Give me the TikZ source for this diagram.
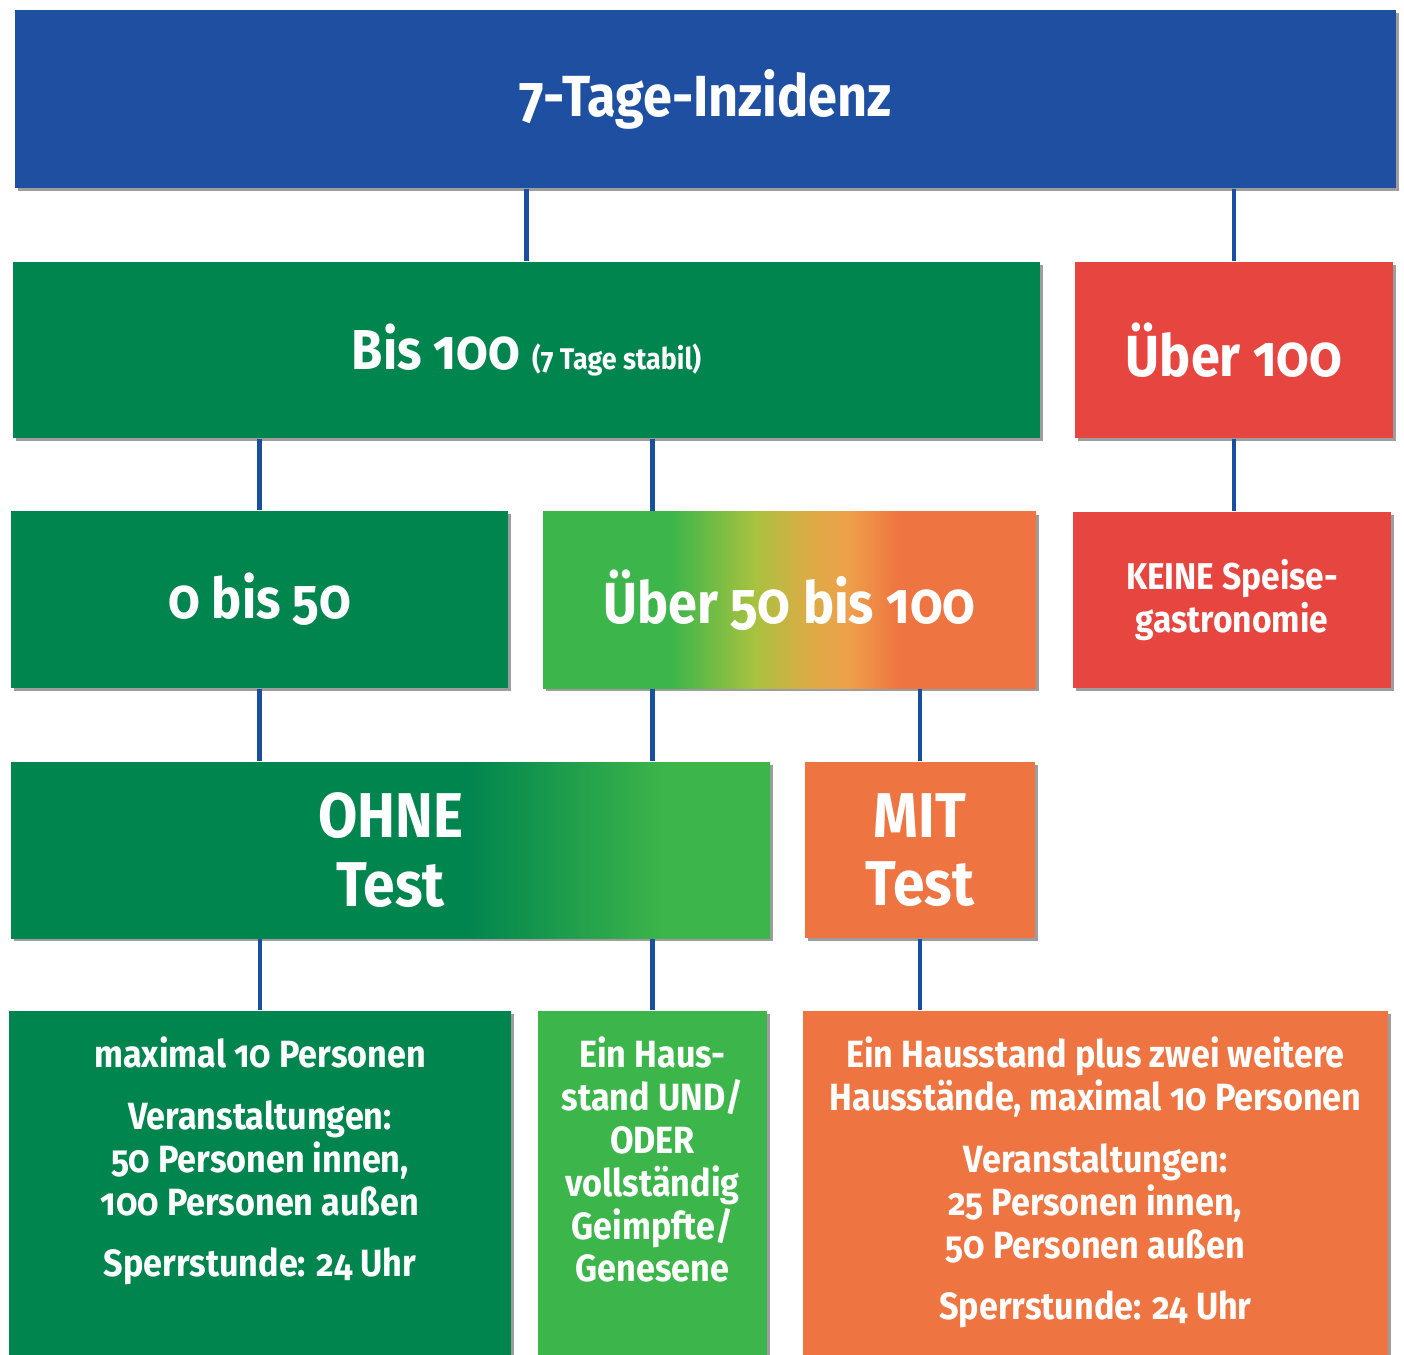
\documentclass[tikz,border=0pt]{standalone}
\usepackage{fontspec}
\setmainfont{Fira Sans}[Numbers=OldStyle, FakeStretch=0.9]
\usetikzlibrary{shadows}

\definecolor{blau}{HTML}{1F4FA0}
\definecolor{linienblau}{HTML}{1A4E9E}
\definecolor{dunkelgruen}{HTML}{00854F}
\definecolor{hellgruen}{HTML}{3CB54A}
\definecolor{gelbgruen}{HTML}{A8C23F}
\definecolor{ocker}{HTML}{D9AD45}
\definecolor{hellorange}{HTML}{EEA04A}
\definecolor{ampelorange}{HTML}{EE7541}
\definecolor{ampelrot}{HTML}{E6463F}

\pgfdeclarehorizontalshading{ampel}{100bp}{color(0bp)=(hellgruen); color(38bp)=(hellgruen); color(46.5bp)=(gelbgruen); color(51.5bp)=(ocker); color(56bp)=(hellorange); color(61bp)=(ampelorange); color(100bp)=(ampelorange)}
\pgfdeclarehorizontalshading{gruenverlauf}{100bp}{color(0bp)=(dunkelgruen); color(55bp)=(dunkelgruen); color(68bp)=(hellgruen); color(100bp)=(hellgruen)}

\tikzset{
  kasten/.style={rectangle, inner sep=0pt, text=white, align=center, font=\bfseries,
    drop shadow={shadow xshift=0.03cm, shadow yshift=-0.03cm, opacity=0.55, fill=black!70}},
  linie/.style={draw=linienblau, line width=1.4pt},
  textblock/.style={text=white, align=center, font=\fontsize{10.8}{12.2}\selectfont\bfseries}
}

\begin{document}
\begin{tikzpicture}
        \useasboundingbox (0,0) rectangle (14.04,-13.55);

        % Kopfzeile
        \node[kasten, fill=blau, minimum width=13.81cm, minimum height=1.78cm, font=\fontsize{16.5}{19}\selectfont\bfseries] (top) at (7.055,-0.99) {7-Tage-Inzidenz};

        % zweite Reihe
        \node[kasten, fill=dunkelgruen, minimum width=10.27cm, minimum height=1.76cm, font=\fontsize{16}{19}\selectfont\bfseries] (bis) at (5.265,-3.50) {Bis 100 {\fontsize{8.5}{10}\selectfont(7 Tage stabil)}};
        \node[kasten, fill=ampelrot, minimum width=3.18cm, minimum height=1.76cm, font=\fontsize{16.5}{19}\selectfont\bfseries] (ueber) at (12.34,-3.50) {Über 100};

        % dritte Reihe
        \node[kasten, fill=dunkelgruen, minimum width=4.97cm, minimum height=1.77cm, font=\fontsize{16}{19}\selectfont\bfseries] (null) at (2.595,-5.995) {0 bis 50};
        \node[kasten, shading=ampel, minimum width=4.93cm, minimum height=1.76cm, font=\fontsize{16.5}{19}\selectfont\bfseries] (mittel) at (7.895,-6.00) {Über 50 bis 100};
        \node[kasten, fill=ampelrot, minimum width=3.18cm, minimum height=1.76cm, font=\fontsize{10.6}{12.2}\selectfont\bfseries] (keine) at (12.32,-6.00) {KEINE Speise-\\gastronomie};

        % vierte Reihe
        \node[kasten, shading=gruenverlauf, minimum width=7.59cm, minimum height=1.76cm, font=\fontsize{18}{19.5}\selectfont\bfseries] (ohne) at (3.905,-8.50) {OHNE\\Test};
        \node[kasten, fill=ampelorange, minimum width=2.30cm, minimum height=1.76cm, font=\fontsize{18}{19.5}\selectfont\bfseries] (mit) at (9.20,-8.50) {MIT\\Test};

        % untere Reihe
        \node[kasten, fill=dunkelgruen, minimum width=5.02cm, minimum height=3.44cm] (links) at (2.60,-11.83) {};
        \node[kasten, fill=hellgruen, minimum width=2.29cm, minimum height=3.44cm] (mitte) at (6.525,-11.83) {};
        \node[kasten, fill=ampelorange, minimum width=5.85cm, minimum height=3.44cm] (rechts) at (10.955,-11.83) {};

        % Texte unten
        \node[textblock, anchor=north] (linkstext) at ([yshift=-0.14cm]links.north) {maximal 10 Personen\\[5.4pt]
          Veranstaltungen:\\50 Personen innen,\\100 Personen außen\\[5.4pt]Sperrstunde: 24 Uhr};
        \node[textblock, anchor=north] (mittetext) at ([yshift=-0.14cm]mitte.north) {Ein Haus-\\stand UND/\\ODER\\vollständig\\Geimpfte/\\Genesene};
        \node[textblock, anchor=north] (rechtstext) at ([yshift=-0.14cm]rechts.north) {Ein Hausstand plus zwei weitere\\Hausstände, maximal 10 Personen\\[5.4pt]
          Veranstaltungen:\\25 Personen innen,\\50 Personen außen\\[5.4pt]Sperrstunde: 24 Uhr};

        % Verbindungen
        \draw[linie] (top.south -| bis.north) -- (bis.north);
        \draw[linie] (top.south -| ueber.north) -- (ueber.north);
        \draw[linie] (bis.south -| null.north) -- (null.north);
        \draw[linie] (bis.south -| mitte.north) -- (mittel.north -| mitte.north);
        \draw[linie] (ueber.south) -- (keine.north -| ueber.south);
        \draw[linie] (null.south) -- (ohne.north -| null.south);
        \draw[linie] (mittel.south -| mitte.north) -- (ohne.north -| mitte.north);
        \draw[linie] (mittel.south -| mit.north) -- (mit.north);
        \draw[linie] (ohne.south -| links.north) -- (links.north);
        \draw[linie] (ohne.south -| mitte.north) -- (mitte.north);
        \draw[linie] (mit.south) -- (rechts.north -| mit.south);
    \end{tikzpicture}
\end{document}
